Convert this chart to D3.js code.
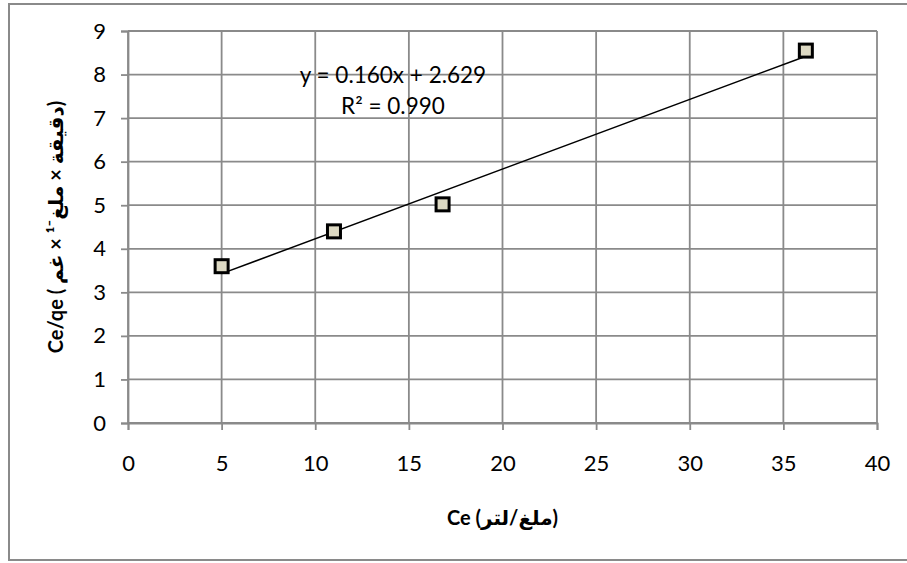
<!DOCTYPE html>
<html>
<head>
<meta charset="utf-8">
<script src="https://cdn.jsdelivr.net/npm/d3@7"></script>
<style>
  body{margin:0;background:#fff;}
  text{font-family:Lato,"DejaVu Sans",sans-serif;fill:#000;}
</style>
</head>
<body>
<div id="chart"></div>
<script>
// measured points
const ceValues = [5, 11, 16.8, 36.2];
const ceQeValues = [3.6, 4.4, 5.02, 8.55];
const xTicks = [0, 5, 10, 15, 20, 25, 30, 35, 40];
const yTicks = [0, 1, 2, 3, 4, 5, 6, 7, 8, 9];
const slope = 0.160, intercept = 2.629;
const eqLines = ["y = 0.160x + 2.629", "R² = 0.990"];
const xLabel = "Ce (ملغ/لتر)";
const yLabel = "Ce/qe ( دقيقة × ملغ⁻¹ × غم)";

const W = 907, H = 563;
const margin = {"top":31,"right":30,"bottom":140,"left":128};
const width = W - margin.left - margin.right;
const height = H - margin.top - margin.bottom;
const grey = "#8a8a8a";

const svg = d3.select("#chart")
  .append("svg")
  .attr("width",W)
  .attr("height",H);

// outer chart frame
svg.append("rect")
  .attr("x",9).attr("y",4)
  .attr("width",W+10).attr("height",556)
  .attr("fill","none")
  .attr("stroke",grey)
  .attr("stroke-width",2);

const g = svg.append("g")
  .attr("transform",`translate(${margin.left},${margin.top})`);

const x = d3.scaleLinear().domain([0,40]).range([0,width]);
const y = d3.scaleLinear().domain([0,9]).range([height,0]);

// gridlines
g.append("g")
  .selectAll("line")
  .data(yTicks)
  .join("line")
  .attr("x1",0).attr("x2",width)
  .attr("y1",d=>y(d)).attr("y2",d=>y(d))
  .attr("stroke",grey).attr("stroke-width",1.8);

g.append("g")
  .selectAll("line")
  .data(xTicks)
  .join("line")
  .attr("y1",0).attr("y2",height)
  .attr("x1",d=>x(d)).attr("x2",d=>x(d))
  .attr("stroke",grey).attr("stroke-width",1.8);

const xAxis = g.append("g")
  .attr("transform",`translate(0,${height})`)
  .call(d3.axisBottom(x).tickValues(xTicks).tickSize(7).tickPadding(25).tickFormat(d3.format("d")));
const yAxis = g.append("g")
  .call(d3.axisLeft(y).tickValues(yTicks).tickSize(7).tickPadding(15).tickFormat(d3.format("d")));

[xAxis,yAxis].forEach(a=>{
  a.select(".domain").attr("stroke",grey).attr("stroke-width",1.8);
  a.selectAll(".tick line").attr("stroke",grey).attr("stroke-width",1.8);
  a.selectAll(".tick text")
    .style("font-family","Lato, sans-serif")
    .style("font-size","22px")
    .attr("fill","#000");
});

// trendline
const xMin = d3.min(ceValues), xMax = d3.max(ceValues);
g.append("line")
  .attr("x1",x(xMin)).attr("y1",y(slope*xMin+intercept))
  .attr("x2",x(xMax)).attr("y2",y(slope*xMax+intercept))
  .attr("stroke","#000")
  .attr("stroke-width",1.5);

// markers
const pts = ceValues.map((v,i)=>({"ce":v,"r":ceQeValues[i]}));
g.selectAll("rect.pt")
  .data(pts)
  .join("rect")
  .attr("class","pt")
  .attr("x",d=>x(d.ce)-6.5)
  .attr("y",d=>y(d.r)-6.5)
  .attr("width",13).attr("height",13)
  .attr("fill","#ddd9c3")
  .attr("stroke","#000")
  .attr("stroke-width",3);

// equation label
g.append("text")
  .attr("x",x(14.15)).attr("y",y(7.8))
  .attr("text-anchor","middle")
  .style("font-size","22.5px")
  .text(eqLines[0]);
g.append("text")
  .attr("x",x(14.15)).attr("y",y(7.09))
  .attr("text-anchor","middle")
  .style("font-size","22.5px")
  .text(eqLines[1]);

// axis titles
svg.append("text")
  .attr("x",margin.left+width/2)
  .attr("y",525)
  .attr("text-anchor","middle")
  .style("font-size","20px")
  .style("font-weight","bold")
  .text(xLabel);

svg.append("text")
  .attr("transform",`translate(63,${margin.top+height/2})rotate(-90)`)
  .attr("text-anchor","middle")
  .style("font-size","20px")
  .style("font-weight","bold")
  .text(yLabel);
</script>
</body>
</html>
